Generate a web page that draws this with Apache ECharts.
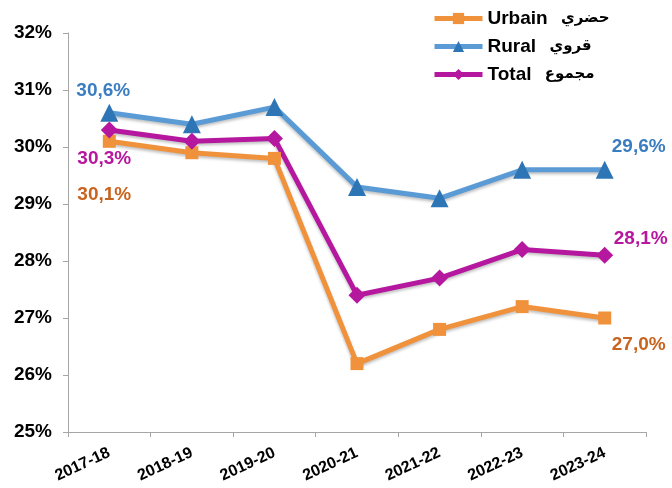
<!DOCTYPE html>
<html lang="fr">

<head>
    <meta charset="UTF-8">
    <title>Urbain / Rural / Total</title>
    <script src="https://cdn.jsdelivr.net/npm/echarts@6/dist/echarts.min.js"></script>
    <style>
        html,
        body {
            margin: 0px;
            background-color: white;
        }

        #chart {
            width: 672px;
            height: 488px;
        }
    </style>
</head>

<body>
    <div id="chart"></div>
    <script>
        var years = ['2017-18', '2018-19', '2019-20', '2020-21', '2021-22', '2022-23', '2023-24'];
        var urbain = [30.1, 29.9, 29.8, 26.2, 26.8, 27.2, 27.0];
        var rural = [30.6, 30.4, 30.7, 29.3, 29.1, 29.6, 29.6];
        var total = [30.3, 30.1, 30.15, 27.4, 27.7, 28.2, 28.1];
        var yTicks = [25, 26, 27, 28, 29, 30, 31, 32];
        var namesFr = ['Urbain', 'Rural', 'Total'];
        var namesAr = ['حضري', 'قروي', 'مجموع'];

        function pct(v) {
            return v.toFixed(1).replace('.', ',') + '%';
        }

        // put a label only on first and last point
        function withLabels(values, color, firstOffset, lastOffset) {
            return values.map(function (v, i) {
                if (i !== 0 && i !== values.length - 1) return v;
                return {
                    value: v,
                    label: {
                        show: true,
                        position: 'inside',
                        offset: i === 0 ? firstOffset : lastOffset,
                        formatter: function (p) { return pct(p.value); },
                        color: color,
                        fontWeight: 'bold',
                        fontSize: 19,
                        fontFamily: 'Liberation Sans, Arial'
                    }
                };
            });
        }

        function makeSeries(name, values, lineColor, markColor, symbol, size, labelColor, firstOffset, lastOffset) {
            return {
                name: name,
                type: 'line',
                data: withLabels(values, labelColor, firstOffset, lastOffset),
                symbol: symbol,
                symbolSize: size,
                showAllSymbol: true,
                lineStyle: {
                    color: lineColor, width: 5,
                    shadowColor: 'rgba(0,0,0,0.25)', shadowBlur: 3, shadowOffsetY: 2
                },
                itemStyle: { color: markColor },
                z: 3
            };
        }

        var chart = echarts.init(document.getElementById('chart'));
        chart.setOption({
            animation: false,
            grid: { left: 68, right: 26, top: 33, bottom: 56 },
            legend: {
                orient: 'vertical',
                left: 427,
                top: 4,
                itemWidth: 48,
                itemHeight: 14,
                itemGap: 9,
                lineStyle: { width: 5 },
                formatter: function (name) {
                    var i = namesFr.indexOf(name);
                    return '{fr|' + name + '}    {ar|' + namesAr[i] + '}';
                },
                textStyle: {
                    color: '#000',
                    rich: {
                        fr: { fontWeight: 'bold', fontSize: 19, fontFamily: 'Liberation Sans, Arial', color: '#000' },
                        ar: { fontWeight: 'bold', fontSize: 15, fontFamily: 'DejaVu Sans', color: '#000' }
                    }
                },
                data: namesFr
            },
            xAxis: {
                type: 'category',
                data: years,
                boundaryGap: true,
                axisLine: { lineStyle: { color: '#a6a6a6', width: 1 } },
                axisTick: { show: true, length: 5, lineStyle: { color: '#a6a6a6' } },
                axisLabel: {
                    rotate: 25,
                    margin: 20,
                    color: '#000',
                    fontWeight: 'bold',
                    fontSize: 16,
                    fontFamily: 'Liberation Sans, Arial'
                }
            },
            yAxis: {
                type: 'value',
                min: yTicks[0],
                max: yTicks[yTicks.length - 1],
                interval: 1,
                splitLine: { show: false },
                axisLine: { show: true, lineStyle: { color: '#a6a6a6', width: 1 } },
                axisTick: { show: true, inside: false, length: 5, lineStyle: { color: '#a6a6a6' } },
                axisLabel: {
                    formatter: '{value}%',
                    margin: 16,
                    color: '#000',
                    fontWeight: 'bold',
                    fontSize: 19,
                    fontFamily: 'Liberation Sans, Arial'
                }
            },
            series: [
                makeSeries('Urbain', urbain, '#f0923b', '#f0923b', 'rect', 13, '#c8641e', [-5, 53], [34, 27]),
                makeSeries('Rural', rural, '#5b9bd5', '#2e75b6', 'triangle', 18, '#3a7dc0', [-6, -22], [34, -23]),
                makeSeries('Total', total, '#b5179e', '#b5179e', 'diamond', 17, '#b5179e', [-5, 29], [36, -17])
            ]
        });
    </script>
</body>

</html>
